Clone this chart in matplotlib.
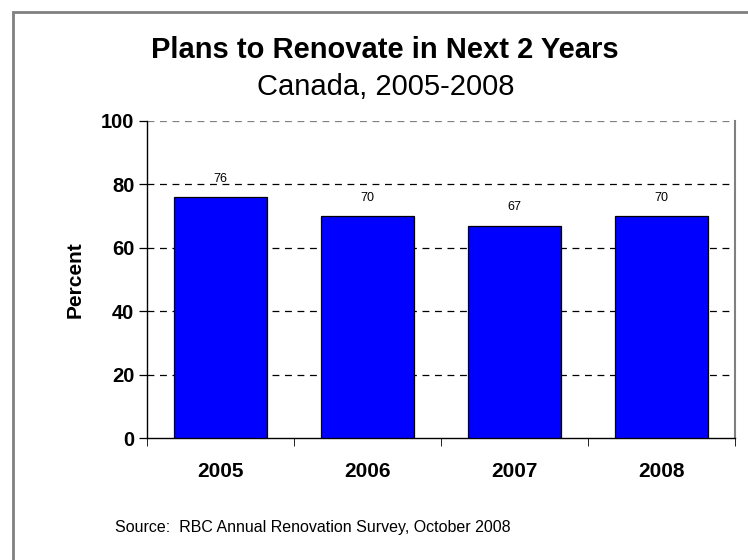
import numpy as np
import matplotlib
matplotlib.use("Agg")
import matplotlib.pyplot as plt
from matplotlib.patches import Rectangle

years = ["2005", "2006", "2007", "2008"]
percent = [76, 70, 67, 70]

plt.rcParams.update({"font.family": ["Liberation Sans", "DejaVu Sans"]})

W, H = 748, 560
fig = plt.figure(figsize=(W / 100, H / 100), dpi=100)

# 외곽 회색 프레임 (위/왼쪽만 보임)
fig.patches.append(Rectangle((13 / W, -0.1), 1.2, (H - 12) / H + 0.1,
                             transform=fig.transFigure, fill=False,
                             edgecolor="#808080", lw=2))

ax = fig.add_axes([147 / W, 1 - 438 / H, (735 - 147) / W, (438 - 121) / H])

x = np.arange(len(years))
ax.bar(x, percent, width=0.63, color="#0000FF", edgecolor="black", lw=0.9, zorder=3)
for xi, v in zip(x, percent):
    ax.annotate(str(v), (xi, v), xytext=(0, 9), textcoords="offset points",
                ha="center", va="bottom", fontsize=9)

ax.set_xlim(-0.5, len(years) - 0.5)
ax.set_ylim(0, 100)
ax.set_yticks(range(0, 101, 20))
ax.set_yticklabels([str(t) for t in range(0, 101, 20)], fontsize=14.5, fontweight="bold")
ax.set_xticks(x)
ax.set_xticklabels(years, fontsize=15, fontweight="bold")
ax.tick_params(axis="x", which="major", length=0, pad=17)
ax.set_xticks(np.arange(-0.5, len(years)), minor=True)
ax.tick_params(axis="x", which="minor", length=6, color="black", direction="out")
ax.tick_params(axis="y", length=6, width=0.9, pad=3)

for y in range(20, 101, 20):
    ax.axhline(y, color="black" if y < 100 else "#808080", lw=0.9,
               ls=(0, (5.5, 4.5)), zorder=1)

ax.spines["top"].set_visible(False)
ax.spines["right"].set_color("#808080")
ax.spines["right"].set_linewidth(1.5)
ax.spines["left"].set_linewidth(1.0)
ax.spines["bottom"].set_linewidth(1.0)

ax.set_ylabel("Percent", fontsize=15, fontweight="bold", labelpad=12)

fig.text(385 / W, 1 - 58 / H, "Plans to Renovate in Next 2 Years",
         ha="center", va="baseline", fontsize=21, fontweight="bold")
fig.text(386 / W, 1 - 95 / H, "Canada, 2005-2008",
         ha="center", va="baseline", fontsize=21)
fig.text(115 / W, 1 - 532 / H, "Source:  RBC Annual Renovation Survey, October 2008",
         ha="left", va="baseline", fontsize=11.5)

fig.savefig("out.png", dpi=100)
